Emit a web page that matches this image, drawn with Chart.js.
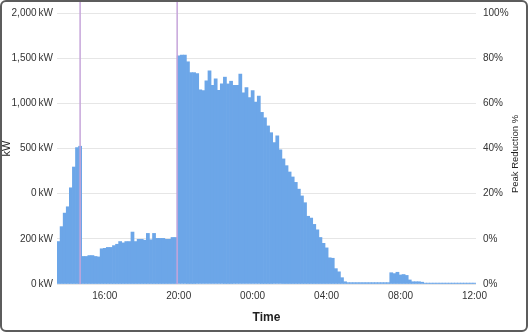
<!DOCTYPE html>
<html>
<head>
<meta charset="utf-8">
<script src="https://cdn.jsdelivr.net/npm/chart.js@4.4.1/dist/chart.umd.min.js"></script>
<style>
  html, body { margin: 0; padding: 0; background: #fff; }
  #wrap { position: relative; width: 528px; height: 332px; }
  #frame {
    position: absolute; left: 0; top: 0; right: 0; bottom: 0;
    border: 2px solid #5c5c5c; border-radius: 6px; pointer-events: none;
  }
</style>
</head>
<body>
<div id="wrap">
  <canvas id="peakChart" width="528" height="332"></canvas>
  <div id="frame"></div>
</div>
<script>
// 10-minute intervals, 13:30 -> 12:00 next day
const timeLabels = [
  '13:30', '13:40', '13:50',
  '14:00', '14:10', '14:20', '14:30', '14:40', '14:50',
  '15:00', '15:10', '15:20', '15:30', '15:40', '15:50',
  '16:00', '16:10', '16:20', '16:30', '16:40', '16:50',
  '17:00', '17:10', '17:20', '17:30', '17:40', '17:50',
  '18:00', '18:10', '18:20', '18:30', '18:40', '18:50',
  '19:00', '19:10', '19:20', '19:30', '19:40', '19:50',
  '20:00', '20:10', '20:20', '20:30', '20:40', '20:50',
  '21:00', '21:10', '21:20', '21:30', '21:40', '21:50',
  '22:00', '22:10', '22:20', '22:30', '22:40', '22:50',
  '23:00', '23:10', '23:20', '23:30', '23:40', '23:50',
  '00:00', '00:10', '00:20', '00:30', '00:40', '00:50',
  '01:00', '01:10', '01:20', '01:30', '01:40', '01:50',
  '02:00', '02:10', '02:20', '02:30', '02:40', '02:50',
  '03:00', '03:10', '03:20', '03:30', '03:40', '03:50',
  '04:00', '04:10', '04:20', '04:30', '04:40', '04:50',
  '05:00', '05:10', '05:20', '05:30', '05:40', '05:50',
  '06:00', '06:10', '06:20', '06:30', '06:40', '06:50',
  '07:00', '07:10', '07:20', '07:30', '07:40', '07:50',
  '08:00', '08:10', '08:20', '08:30', '08:40', '08:50',
  '09:00', '09:10', '09:20', '09:30', '09:40', '09:50',
  '10:00', '10:10', '10:20', '10:30', '10:40', '10:50',
  '11:00', '11:10', '11:20', '11:30', '11:40', '11:50',
  '12:00'
];

// bar heights, in units of the left axis grid (0..600, 100 per gridline)
const loadKw = [
  94, 127, 157, 171, 213, 259, 302, 305,
  61, 61, 63, 63, 61, 60, 78, 79, 81, 81, 85, 88, 94, 91, 94, 94, 115, 94,
  99, 99, 97, 112, 98, 112, 101, 101, 101, 99, 99, 103, 103,
  505, 507, 507, 492, 468, 468, 466, 430, 428, 450, 472, 440, 454, 429,
  443, 458, 443, 449, 440, 440, 465, 423, 435, 413, 428, 403, 416,
  380, 368, 350, 335, 313, 328, 297, 277, 262, 248, 237, 225, 210, 195,
  180, 150, 146, 132, 120, 103, 90, 80, 58, 57, 34, 27, 14, 5,
  3, 3, 3, 3, 3, 3, 3, 3, 3, 3, 3, 3, 3, 3,
  25, 23, 26, 20, 21, 19, 9, 5, 5, 5, 4,
  2, 2, 2, 2, 2, 2, 2, 2, 2, 2, 2, 2, 2, 2, 2, 2, 2
];

const xTickLabels = ['16:00', '20:00', '00:00', '04:00', '08:00', '12:00'];
const leftTickLabels = ['0\u2009kW', '200\u2009kW', '0\u2009kW', '500\u2009kW', '1,000\u2009kW', '1,500\u2009kW', '2,000\u2009kW'];
const rightTickLabels = ['0%', '0%', '20%', '40%', '60%', '80%', '100%'];
const markerTimes = ['14:40', '19:55'];

const tickFont = { family: 'Helvetica, Arial, sans-serif', size: 10 };
const tickColor = '#333';

// time string -> (fractional) category index
function timeToIndex(t) {
    const start = timeLabels[0].split(':').map(Number);
    const p = t.split(':').map(Number);
    let mins = p[0] * 60 + p[1];
    const startMins = start[0] * 60 + start[1];
    if (mins < startMins) mins += 1440;
    return (mins - startMins) / 10;
}

const extras = {
    id: 'extras',
    afterDatasetsDraw(chart) {
        const ctx = chart.ctx;
        const area = chart.chartArea;
        const x = chart.scales.x;
        ctx.save();
        ctx.strokeStyle = '#c6a5da';
        ctx.lineWidth = 1.5;
        markerTimes.forEach(t => {
            const px = x.getPixelForValue(timeToIndex(t));
            ctx.beginPath();
            ctx.moveTo(px, 0);
            ctx.lineTo(px, area.bottom);
            ctx.stroke();
        });
        ctx.restore();

        // right axis title, reads bottom to top
        ctx.save();
        ctx.translate(515, 154);
        ctx.rotate(-Math.PI / 2);
        ctx.fillStyle = '#222';
        ctx.font = '9.5px Helvetica, Arial, sans-serif';
        ctx.textAlign = 'center';
        ctx.textBaseline = 'middle';
        ctx.fillText('Peak Reduction %', 0, 0);
        ctx.restore();
    }
};

new Chart(document.getElementById('peakChart'), {
    type: 'bar',
    data: {
        labels: timeLabels,
        datasets: [{
            label: 'Load',
            data: loadKw,
            backgroundColor: '#6ca6e8',
            borderWidth: 0,
            barPercentage: 1,
            categoryPercentage: 1
        }]
    },
    options: {
        responsive: false,
        devicePixelRatio: 1,
        animation: false,
        layout: { padding: { top: 8, left: 0, right: 0, bottom: 0 } },
        plugins: { legend: { display: false }, tooltip: { enabled: false } },
        scales: {
            x: {
                grid: { display: false, drawTicks: false },
                border: { display: false },
                ticks: {
                    autoSkip: false,
                    maxRotation: 0,
                    padding: 6,
                    font: tickFont,
                    color: tickColor,
                    callback: (v, i) => xTickLabels.includes(timeLabels[i]) ? timeLabels[i] : ''
                },
                title: {
                    display: true,
                    text: 'Time',
                    color: '#222',
                    font: { family: 'Helvetica, Arial, sans-serif', size: 12, weight: 'bold' },
                    padding: { top: 0, bottom: 7 }
                },
                afterFit: s => { s.height = 48; }
            },
            y: {
                position: 'left',
                min: 0,
                max: 600,
                grid: { color: '#e6e6e6', drawTicks: false },
                border: { display: false },
                ticks: {
                    stepSize: 100,
                    padding: 4,
                    font: tickFont,
                    color: tickColor,
                    callback: (v, i) => leftTickLabels[i]
                },
                title: {
                    display: true,
                    text: 'kW',
                    color: '#222',
                    font: { family: 'Helvetica, Arial, sans-serif', size: 11 },
                    padding: { top: 0, bottom: 0 }
                },
                afterFit: s => { s.width = 57; }
            },
            y1: {
                position: 'right',
                min: 0,
                max: 600,
                grid: { drawOnChartArea: false, drawTicks: false },
                border: { display: false },
                ticks: {
                    stepSize: 100,
                    padding: 7,
                    font: tickFont,
                    color: tickColor,
                    callback: (v, i) => rightTickLabels[i]
                },
                afterFit: s => { s.width = 52; }
            }
        }
    },
    plugins: [extras]
});
</script>
</body>
</html>
